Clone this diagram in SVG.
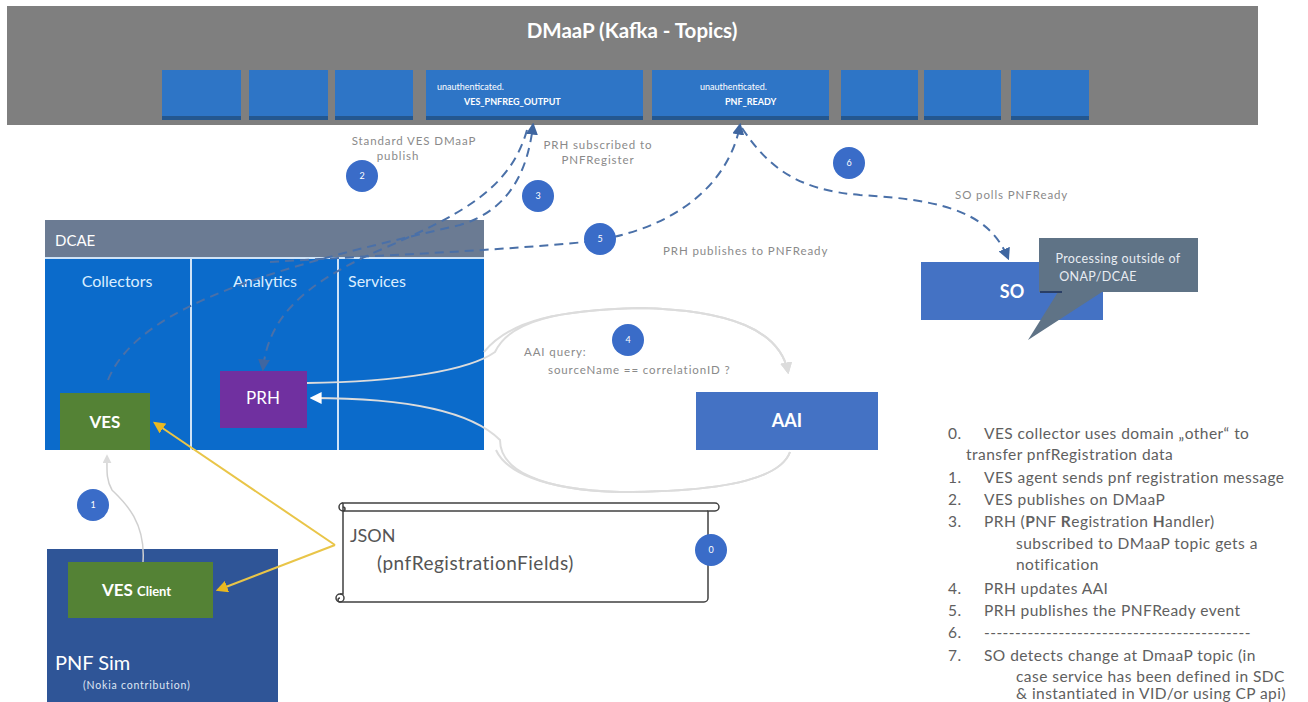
<svg xmlns="http://www.w3.org/2000/svg" width="1308" height="702" viewBox="0 0 1308 702">
<defs>
<style>
text{font-family:Lato,"Open Sans","Liberation Sans",sans-serif}
.topic{fill:#2e75c6}
.tshadow{fill:#24578f}
.wt{fill:#fff}
.lbl{fill:#8a8a8a;font-size:11.5px;letter-spacing:0.9px}
.badge circle{fill:#3a6cc8}
.badge text{fill:#fff;font-size:9px;text-anchor:middle}
.list{fill:#606060;font-size:15.5px;letter-spacing:0.45px}
.dash{fill:none;stroke:#4a70a8;stroke-width:2;stroke-dasharray:9 6}
.loop{fill:none;stroke:#dcdcdc;stroke-width:2}
.yel{fill:none;stroke:#e9c548;stroke-width:2}
</style>
<marker id="ab" viewBox="0 0 10 10" refX="8" refY="5" markerWidth="6" markerHeight="6" orient="auto"><path d="M0,0 L10,5 L0,10 z" fill="#3f66a0"/></marker>
<marker id="ag" viewBox="0 0 10 10" refX="8" refY="5" markerWidth="6" markerHeight="6" orient="auto"><path d="M0,0 L10,5 L0,10 z" fill="#dcdcdc"/></marker>
<marker id="aw" viewBox="0 0 10 10" refX="8" refY="5" markerWidth="6" markerHeight="6" orient="auto"><path d="M0,0 L10,5 L0,10 z" fill="#ffffff"/></marker>
<marker id="ay" viewBox="0 0 10 10" refX="8" refY="5" markerWidth="6" markerHeight="6" orient="auto"><path d="M0,0 L10,5 L0,10 z" fill="#e9b820"/></marker>
</defs>
<rect width="1308" height="702" fill="#fff"/>

<g id="dmaap">
<rect x="7" y="6" width="1251" height="119" fill="#7f7f7f"/>
<text x="632" y="38" text-anchor="middle" class="wt" font-size="20.5" font-weight="bold">DMaaP (Kafka - Topics)</text>
<g id="topics">
<rect class="tshadow" x="162" y="72" width="79" height="48"/><rect class="topic" x="162" y="70" width="79" height="46"/>
<rect class="tshadow" x="249" y="72" width="79" height="48"/><rect class="topic" x="249" y="70" width="79" height="46"/>
<rect class="tshadow" x="335" y="72" width="78" height="48"/><rect class="topic" x="335" y="70" width="78" height="46"/>
<rect class="tshadow" x="426" y="72" width="217" height="48"/><rect class="topic" x="426" y="70" width="217" height="46"/>
<rect class="tshadow" x="652" y="72" width="177" height="48"/><rect class="topic" x="652" y="70" width="177" height="46"/>
<rect class="tshadow" x="841" y="72" width="77" height="48"/><rect class="topic" x="841" y="70" width="77" height="46"/>
<rect class="tshadow" x="924" y="72" width="77" height="48"/><rect class="topic" x="924" y="70" width="77" height="46"/>
<rect class="tshadow" x="1011" y="72" width="78" height="48"/><rect class="topic" x="1011" y="70" width="78" height="46"/>
<text x="437" y="90" class="wt" font-size="9">unauthenticated.</text>
<text x="464" y="105" class="wt" font-size="9" font-weight="bold">VES_PNFREG_OUTPUT</text>
<text x="700" y="90" class="wt" font-size="9">unauthenticated.</text>
<text x="725" y="105" class="wt" font-size="9" font-weight="bold">PNF_READY</text>
</g>
</g>

<g id="dcae">
<rect x="45" y="220" width="439" height="37" fill="#6b7b93"/>
<text x="55" y="246" class="wt" font-size="15">DCAE</text>
<rect x="45" y="257" width="439" height="193" fill="#0b6bcb"/>
<line x1="45" y1="258" x2="484" y2="258" stroke="#cfe3f7" stroke-width="2"/>
<line x1="191" y1="258" x2="191" y2="450" stroke="#cfe3f7" stroke-width="2"/>
<line x1="338" y1="258" x2="338" y2="450" stroke="#cfe3f7" stroke-width="2"/>
<text x="117" y="287" text-anchor="middle" fill="#dbeeff" font-size="16">Collectors</text>
<text x="265" y="287" text-anchor="middle" fill="#dbeeff" font-size="16">Analytics</text>
<text x="348" y="287" fill="#dbeeff" font-size="16">Services</text>
</g>

<g id="ves">
<rect x="60" y="393" width="90" height="57" fill="#548235"/>
<text x="105" y="428" text-anchor="middle" class="wt" font-size="17" font-weight="bold">VES</text>
</g>
<g id="prh">
<rect x="220" y="371" width="87" height="57" fill="#7030a0"/>
<text x="263" y="404" text-anchor="middle" class="wt" font-size="17">PRH</text>
</g>
<g id="aai">
<rect x="696" y="392" width="182" height="58" fill="#4472c4"/>
<text x="787" y="427" text-anchor="middle" class="wt" font-size="18" font-weight="bold">AAI</text>
</g>
<g id="so">
<rect x="921" y="262" width="182" height="58" fill="#4472c4"/>
<text x="1012" y="298" text-anchor="middle" class="wt" font-size="18" font-weight="bold">SO</text>
</g>
<g id="callout">
<path d="M1039,238 H1198 V292 H1102 L1028,340 L1058,292 H1039 Z" fill="#5f7386"/>
<line x1="1040" y1="292" x2="1062" y2="292" stroke="#2a3f66" stroke-width="2"/>
<text x="1118" y="263" text-anchor="middle" fill="#e8ecf2" font-size="12.5" letter-spacing="0.4">Processing outside of</text>
<text x="1098" y="281" text-anchor="middle" fill="#e8ecf2" font-size="12.5" letter-spacing="0.4">ONAP/DCAE</text>
</g>
<g id="pnfsim">
<rect x="47" y="549" width="231" height="153" fill="#2f5597"/>
<text x="55" y="670" class="wt" font-size="20">PNF Sim</text>
<text x="83" y="689" fill="#dfe6f3" font-size="10.5" letter-spacing="0.8">(Nokia contribution)</text>
</g>
<g id="vesclient">
<rect x="68" y="562" width="145" height="56" fill="#548235"/>
<text x="102" y="596" class="wt" font-size="17" font-weight="bold">VES <tspan font-size="13">Client</tspan></text>
</g>
<g id="json">
<path d="M343,503 H715 a4,4 0 0 1 0,8 H708 V598 a4,4 0 0 1 -4,4 H340 a4,4 0 0 1 0,-8 H343 Z" fill="#fff" stroke="#404040" stroke-width="1.5"/>
<path d="M343,511 H708" fill="none" stroke="#404040" stroke-width="1.5"/>
<path d="M343,503 a4,4 0 0 0 0,8 a2,2 0 0 0 0,-4" fill="none" stroke="#404040" stroke-width="1.5"/>
<path d="M340,594 a4,4 0 0 1 0,8 a2,2 0 0 1 0,-4" fill="none" stroke="#404040" stroke-width="1.5"/>
<text x="350" y="542" fill="#555" font-size="18">JSON</text>
<text x="377" y="570" fill="#555" font-size="19" letter-spacing="0.5">(pnfRegistrationFields)</text>
</g>

<g id="connectors">
<path class="dash" d="M108,380 C140,300 300,262 460,225 C510,210 528,170 533,125" marker-end="url(#ab)"/>
<path class="dash" d="M527,130 C510,190 460,215 380,250 C300,285 268,320 263,369" marker-end="url(#ab)"/>
<path class="dash" d="M270,262 C380,255 480,252 585,242 C680,230 730,180 740,125" marker-end="url(#ab)"/>
<path class="dash" d="M742,128 C770,170 800,190 860,195 C950,200 990,215 1008,258" marker-end="url(#ab)"/>
<path class="loop" d="M307,383 C400,382 470,370 495,352 C510,320 560,310 640,308 C730,310 780,330 788,372" marker-end="url(#ag)" stroke="#ffffff"/>
<path class="loop" d="M484,352 C510,320 560,310 640,308 C730,310 780,330 788,372" marker-end="url(#ag)"/>
<path class="loop" d="M790,452 C780,480 720,492 620,492 C540,490 500,470 500,440 C470,410 400,398 312,398" marker-end="url(#aw)" stroke="#ffffff"/>
<path class="loop" d="M790,452 C780,480 720,492 620,492 C540,490 505,470 496,450" />
<path d="M143,562 C146,520 122,500 112,490 C106,480 107,470 107,456" fill="none" stroke="#d0d0d0" stroke-width="1.5" marker-end="url(#ag)"/>
<path class="yel" d="M335,545 L155,423" marker-end="url(#ay)"/>
<path class="yel" d="M335,545 L218,590" marker-end="url(#ay)"/>
</g>

<g id="labels">
<text x="414" y="145" text-anchor="middle" class="lbl">Standard VES DMaaP</text>
<text x="398" y="160" text-anchor="middle" class="lbl">publish</text>
<text x="598" y="149" text-anchor="middle" class="lbl">PRH subscribed to</text>
<text x="598" y="164" text-anchor="middle" class="lbl">PNFRegister</text>
<text x="955" y="199" class="lbl">SO polls PNFReady</text>
<text x="663" y="255" class="lbl">PRH publishes to PNFReady</text>
<text x="524" y="356" class="lbl">AAI query:</text>
<text x="548" y="374" class="lbl" letter-spacing="1.6">sourceName == correlationID ?</text>
</g>

<g id="badges">
<g class="badge"><circle cx="362" cy="176" r="16"/><text x="362" y="179">2</text></g>
<g class="badge"><circle cx="538" cy="196" r="16"/><text x="538" y="199">3</text></g>
<g class="badge"><circle cx="849" cy="163" r="16"/><text x="849" y="166">6</text></g>
<g class="badge"><circle cx="600" cy="239" r="16"/><text x="600" y="242">5</text></g>
<g class="badge"><circle cx="628" cy="340" r="16"/><text x="628" y="343">4</text></g>
<g class="badge"><circle cx="93" cy="505" r="16"/><text x="93" y="508">1</text></g>
<g class="badge"><circle cx="711" cy="550" r="16"/><text x="711" y="553">0</text></g>
</g>

<g id="notes">
<text x="948" y="439" class="list">0.<tspan x="984">VES collector uses domain „other“ to</tspan></text>
<text x="966" y="460" class="list">transfer  pnfRegistration data</text>
<text x="948" y="483" class="list">1.<tspan x="984">VES agent sends pnf registration message</tspan></text>
<text x="948" y="505" class="list">2.<tspan x="984">VES publishes on DMaaP</tspan></text>
<text x="948" y="527" class="list">3.<tspan x="984">PRH (<tspan font-weight="bold">P</tspan>NF <tspan font-weight="bold">R</tspan>egistration <tspan font-weight="bold">H</tspan>andler)</tspan></text>
<text x="1016" y="549" class="list">subscribed to DMaaP topic gets a</text>
<text x="1016" y="570" class="list">notification</text>
<text x="948" y="594" class="list">4.<tspan x="984">PRH updates AAI</tspan></text>
<text x="948" y="616" class="list">5.<tspan x="984">PRH publishes the PNFReady event</tspan></text>
<text x="948" y="638" class="list">6.<tspan x="984">-------------------------------------------</tspan></text>
<text x="948" y="661" class="list">7.<tspan x="984">SO detects change at  DmaaP topic (in</tspan></text>
<text x="1016" y="682" class="list">case service has been defined in SDC</text>
<text x="1016" y="699" class="list" font-size="14">&amp; instantiated in VID/or using CP api)</text>
</g>
</svg>
